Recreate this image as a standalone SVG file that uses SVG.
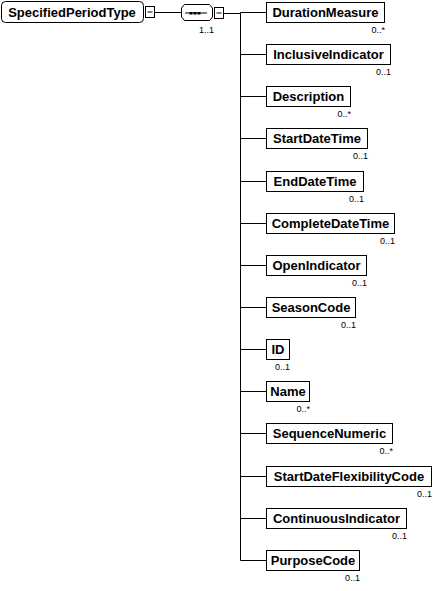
<svg xmlns="http://www.w3.org/2000/svg" width="433" height="591" viewBox="0 0 433 591">
<style>
.box{fill:#fff;stroke:#000;stroke-width:1}
.ln{stroke:#000;stroke-width:1;fill:none}
.name{font-family:"Liberation Sans",Arial,sans-serif;font-weight:bold;font-size:13px;fill:#000;text-anchor:middle}
.occ{font-family:"Liberation Sans",Arial,sans-serif;font-size:9px;fill:#000;text-anchor:end}
</style>
<rect width="433" height="591" fill="#fff"/>
<g id="connectors">
<line class="ln" x1="154" y1="12.5" x2="181" y2="12.5"/>
<line class="ln" x1="224" y1="13.5" x2="240.5" y2="13.5"/>
<line class="ln" x1="240.5" y1="12.5" x2="240.5" y2="560.5"/>
<line class="ln" x1="240.5" y1="12.5" x2="266" y2="12.5"/>
<line class="ln" x1="240.5" y1="54.5" x2="266" y2="54.5"/>
<line class="ln" x1="240.5" y1="96.5" x2="266" y2="96.5"/>
<line class="ln" x1="240.5" y1="138.5" x2="266" y2="138.5"/>
<line class="ln" x1="240.5" y1="181.5" x2="266" y2="181.5"/>
<line class="ln" x1="240.5" y1="223.5" x2="266" y2="223.5"/>
<line class="ln" x1="240.5" y1="265.5" x2="266" y2="265.5"/>
<line class="ln" x1="240.5" y1="307.5" x2="266" y2="307.5"/>
<line class="ln" x1="240.5" y1="349.5" x2="266" y2="349.5"/>
<line class="ln" x1="240.5" y1="391.5" x2="266" y2="391.5"/>
<line class="ln" x1="240.5" y1="433.5" x2="266" y2="433.5"/>
<line class="ln" x1="240.5" y1="476.5" x2="266" y2="476.5"/>
<line class="ln" x1="240.5" y1="518.5" x2="266" y2="518.5"/>
<line class="ln" x1="240.5" y1="560.5" x2="266" y2="560.5"/>
</g>
<g id="root">
<rect class="box" x="1.5" y="1.5" width="142" height="21" rx="4"/>
<text class="name" x="72" y="17">SpecifiedPeriodType</text>
<rect class="box" x="145.5" y="6.5" width="9" height="11"/>
<line class="ln" x1="147.5" y1="12" x2="152.5" y2="12"/>
</g>
<g id="sequence">
<path class="box" d="M181.5,8 L184.5,4.5 L209.5,4.5 L212.5,8 L212.5,17 L209.5,20.5 L184.5,20.5 L181.5,17 Z"/>
<line class="ln" x1="185" y1="13" x2="207" y2="13"/>
<rect x="189.5" y="12" width="3" height="2.5" fill="#000"/>
<rect x="193.5" y="12" width="3" height="2.5" fill="#000"/>
<rect x="197.5" y="12" width="3" height="2.5" fill="#000"/>
<rect class="box" x="214.5" y="7.5" width="9" height="11"/>
<line class="ln" x1="216.5" y1="13" x2="221.5" y2="13"/>
<text class="occ" x="214" y="33">1..1</text>
</g>
<g id="DurationMeasure"><rect class="box" x="266.5" y="2.5" width="118" height="20"/><text class="name" x="325.5" y="17">DurationMeasure</text><text class="occ" x="385" y="33">0..*</text></g>
<g id="InclusiveIndicator"><rect class="box" x="266.5" y="44.5" width="124" height="20"/><text class="name" x="328.5" y="59">InclusiveIndicator</text><text class="occ" x="391" y="75">0..1</text></g>
<g id="Description"><rect class="box" x="266.5" y="86.5" width="84" height="20"/><text class="name" x="308.5" y="101">Description</text><text class="occ" x="351" y="117">0..*</text></g>
<g id="StartDateTime"><rect class="box" x="266.5" y="128.5" width="101" height="20"/><text class="name" x="317" y="143">StartDateTime</text><text class="occ" x="368" y="159">0..1</text></g>
<g id="EndDateTime"><rect class="box" x="266.5" y="171.5" width="97" height="20"/><text class="name" x="315" y="186">EndDateTime</text><text class="occ" x="364" y="202">0..1</text></g>
<g id="CompleteDateTime"><rect class="box" x="266.5" y="213.5" width="128" height="20"/><text class="name" x="330.5" y="228">CompleteDateTime</text><text class="occ" x="395" y="244">0..1</text></g>
<g id="OpenIndicator"><rect class="box" x="266.5" y="255.5" width="100" height="20"/><text class="name" x="316.5" y="270">OpenIndicator</text><text class="occ" x="367" y="286">0..1</text></g>
<g id="SeasonCode"><rect class="box" x="266.5" y="297.5" width="89" height="20"/><text class="name" x="311" y="312">SeasonCode</text><text class="occ" x="356" y="328">0..1</text></g>
<g id="ID"><rect class="box" x="266.5" y="339.5" width="23" height="20"/><text class="name" x="278" y="354">ID</text><text class="occ" x="290" y="370">0..1</text></g>
<g id="Name"><rect class="box" x="266.5" y="381.5" width="43" height="20"/><text class="name" x="288" y="396">Name</text><text class="occ" x="310" y="412">0..*</text></g>
<g id="SequenceNumeric"><rect class="box" x="266.5" y="423.5" width="126" height="20"/><text class="name" x="329.5" y="438">SequenceNumeric</text><text class="occ" x="393" y="454">0..*</text></g>
<g id="StartDateFlexibilityCode"><rect class="box" x="266.5" y="466.5" width="165" height="20"/><text class="name" x="349" y="481">StartDateFlexibilityCode</text><text class="occ" x="432" y="497">0..1</text></g>
<g id="ContinuousIndicator"><rect class="box" x="266.5" y="508.5" width="140" height="20"/><text class="name" x="336.5" y="523">ContinuousIndicator</text><text class="occ" x="407" y="539">0..1</text></g>
<g id="PurposeCode"><rect class="box" x="266.5" y="550.5" width="93" height="20"/><text class="name" x="313" y="565">PurposeCode</text><text class="occ" x="360" y="581">0..1</text></g>
</svg>
